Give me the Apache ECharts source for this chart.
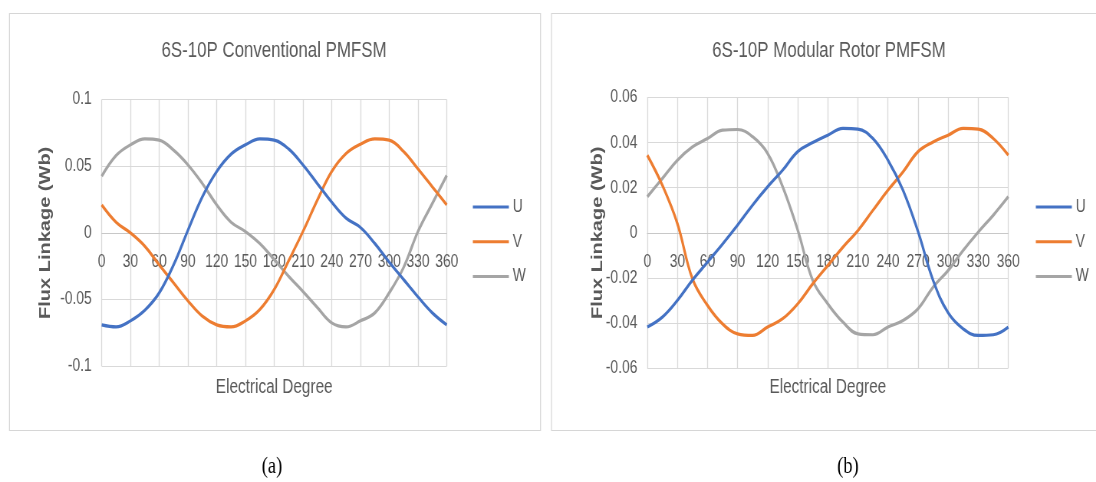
<!DOCTYPE html>
<html>
<head>
<meta charset="utf-8">
<script src="https://cdn.jsdelivr.net/npm/echarts@6/dist/echarts.min.js"></script>
<style>
  body { margin: 0; background: #fff; overflow: hidden; width: 1096px; height: 482px; }
  /* the source figure is squeezed sideways, so draw wide and squeeze */
  #chart1 { height: 482px; transform-origin: 0 0; }
</style>
</head>
<body>
<div id="chart1"></div>
<script>
var S = 0.767;
var box = document.getElementById('chart1');
box.style.width = (1096 / S) + 'px';
box.style.transform = 'scaleX(' + S + ')';
var chart1 = echarts.init(box);

// electrical degree, shared by all curves
var degrees = [0, 15, 30, 45, 60, 75, 90, 105, 120, 135, 150, 165, 180,
	195, 210, 225, 240, 255, 270, 285, 300, 315, 330, 345, 360];
var xTicks = [0, 30, 60, 90, 120, 150, 180, 210, 240, 270, 300, 330, 360];

// (a) conventional
var convU = [-0.069, -0.0705, -0.066, -0.058, -0.045, -0.024, 0.002, 0.027, 0.046, 0.059, 0.066, 0.0705, 0.0695,
	0.063, 0.051, 0.037, 0.023, 0.011, 0.004, -0.008, -0.022, -0.035, -0.048, -0.060, -0.069];
var convV = [0.021, 0.008, 0.000, -0.010, -0.024, -0.0375, -0.051, -0.0625, -0.069, -0.0705, -0.066, -0.0575, -0.0425,
	-0.021, 0.001, 0.0245, 0.046, 0.0595, 0.0665, 0.0705, 0.0695, 0.061, 0.048, 0.0345, 0.021];
var convW = [0.0425, 0.058, 0.066, 0.0705, 0.0695, 0.062, 0.051, 0.037, 0.021, 0.008, 0.001, -0.008, -0.020,
	-0.0325, -0.044, -0.056, -0.0675, -0.0705, -0.066, -0.060, -0.045, -0.026, 0.001, 0.022, 0.043];
var convTicks = [-0.1, -0.05, 0, 0.05, 0.1];

// (b) modular rotor
var modU = [-0.0418, -0.0374, -0.030, -0.021, -0.013, -0.005, 0.0034, 0.0123, 0.0204, 0.0278, 0.036, 0.040, 0.0433,
	0.0463, 0.046, 0.0418, 0.0322, 0.0189, 0.0005, -0.0211, -0.0355, -0.0426, -0.0455, -0.0452, -0.0418];
var modV = [0.0344, 0.0211, 0.0041, -0.0204, -0.0322, -0.0404, -0.0448, -0.0455, -0.0418, -0.0381, -0.0315, -0.0226, -0.0145,
	-0.0064, 0.001, 0.010, 0.0189, 0.027, 0.036, 0.0403, 0.0433, 0.0463, 0.046, 0.0418, 0.0344];
var modW = [0.016, 0.0241, 0.0322, 0.0381, 0.0418, 0.0455, 0.0458, 0.0426, 0.0352, 0.0204, 0.0012, -0.0211, -0.0315,
	-0.0396, -0.0448, -0.0452, -0.0418, -0.0389, -0.0337, -0.0241, -0.0167, -0.0078, 0.0003, 0.0078, 0.016];
var modTicks = [-0.06, -0.04, -0.02, 0, 0.02, 0.04, 0.06];

var phaseNames = ['U', 'V', 'W'];
var phaseColors = ['#4472c4', '#ed7d31', '#a5a5a5'];

var sans = "'Liberation Sans', Arial, sans-serif";
var txtColor = '#595959';
var gridColor = '#d9d9d9';

// page x (after squeeze) -> chart x
function px(x) { return x / S; }

function pairs(ys) {
	return degrees.map(function (d, i) { return [d, ys[i]]; });
}

// lift the category line from the grid bottom up to y = 0
function xAxisOf(idx, lift) {
	return {
		gridIndex: idx,
		type: 'value',
		min: xTicks[0],
		max: xTicks[xTicks.length - 1],
		interval: xTicks[1] - xTicks[0],
		position: 'bottom',
		offset: -lift,
		name: 'Electrical Degree',
		nameLocation: 'middle',
		nameGap: 145,
		nameMoveOverlap: false,
		nameTextStyle: { color: txtColor, fontSize: 20, fontFamily: sans },
		axisLine: { onZero: false, lineStyle: { color: '#c8c8c8', width: 1 } },
		axisTick: { show: false },
		axisLabel: { margin: 20, color: txtColor, fontSize: 18, fontFamily: sans, showMinLabel: true, showMaxLabel: true },
		splitLine: { lineStyle: { color: gridColor, width: 1.3 } }
	};
}

function yAxisOf(idx, ticks, gap) {
	return {
		gridIndex: idx,
		type: 'value',
		min: ticks[0],
		max: ticks[ticks.length - 1],
		interval: ticks[1] - ticks[0],
		name: 'Flux Linkage (Wb)',
		nameLocation: 'middle',
		nameRotate: 90,
		nameGap: gap,
		nameMoveOverlap: false,
		nameTextStyle: { color: txtColor, fontSize: 20, fontWeight: 'bold', fontFamily: sans },
		axisLine: { show: false },
		axisTick: { show: false },
		axisLabel: {
			margin: px(10), color: txtColor, fontSize: 18, fontFamily: sans,
			formatter: function (v) { return String(+v.toFixed(2)); }
		},
		splitLine: { lineStyle: { color: gridColor, width: 1 } }
	};
}

function seriesOf(idx, arrs) {
	return arrs.map(function (ys, k) {
		return {
			name: phaseNames[k],
			type: 'line',
			xAxisIndex: idx,
			yAxisIndex: idx,
			data: pairs(ys),
			smooth: 0.4,
			symbol: 'none',
			lineStyle: { width: 3.2, color: phaseColors[k] },
			itemStyle: { color: phaseColors[k] },
			z: 3 - k
		};
	});
}

function legendOf(left) {
	return {
		orient: 'vertical',
		left: px(left),
		top: 192,
		icon: 'rect',
		itemWidth: px(36),
		itemHeight: 3,
		itemGap: 14.7,
		data: phaseNames,
		textStyle: { color: txtColor, fontSize: 18, fontFamily: sans, lineHeight: 20 }
	};
}

function frame(x, w) {
	return { type: 'rect', shape: { x: px(x), y: 13.5, width: px(w), height: 417 },
		style: { fill: 'none', stroke: '#d6d6d6', lineWidth: 1.2 }, z: -1 };
}

function label(text, x, y, font, color) {
	return { type: 'text', style: { text: text, x: px(x), y: y, textAlign: 'center', textVerticalAlign: 'middle', fill: color, font: font } };
}

var option = {
	backgroundColor: '#fff',
	animation: false,
	grid: [
		{ left: px(101.7), top: 99.5, width: px(345), height: 266.7, containLabel: false, outerBoundsMode: 'none' },
		{ left: px(647.3), top: 97.5, width: px(361), height: 270.6, containLabel: false, outerBoundsMode: 'none' }
	],
	xAxis: [xAxisOf(0, 266.7 / 2), xAxisOf(1, 270.6 / 2)],
	yAxis: [yAxisOf(0, convTicks, 63), yAxisOf(1, modTicks, 54)],
	legend: [legendOf(469), legendOf(1032)],
	series: seriesOf(0, [convU, convV, convW]).concat(seriesOf(1, [modU, modV, modW])),
	graphic: [
		frame(9.5, 531),
		frame(551.5, 560),
		label('6S-10P Conventional PMFSM', 274, 51, '22px ' + sans, txtColor),
		label('6S-10P Modular Rotor PMFSM', 829, 51, '22px ' + sans, txtColor),
		label('(a)', 272, 467, "24px 'Liberation Serif', serif", '#000'),
		label('(b)', 848, 467, "24px 'Liberation Serif', serif", '#000')
	]
};
// 绘制图表
chart1.setOption(option);
</script>
</body>
</html>
